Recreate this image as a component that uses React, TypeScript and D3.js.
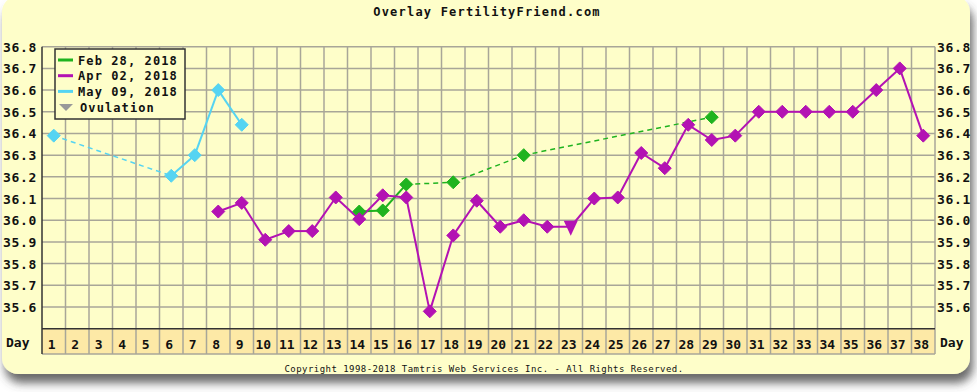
import React from "react";
import * as d3 from "d3";

const days = d3.range(1, 39);
const yTicks = [35.6, 35.7, 35.8, 35.9, 36.0, 36.1, 36.2, 36.3, 36.4, 36.5, 36.6, 36.7, 36.8];

const febDays = [14, 15, 16, 18, 21, 29];
const febTemps = [36.04, 36.045, 36.165, 36.175, 36.3, 36.475];

const aprDays = [8, 9, 10, 11, 12, 13, 14, 15, 16, 17, 18, 19, 20, 21, 22, 23, 24, 25, 26, 27, 28, 29, 30, 31, 32, 33, 34, 35, 36, 37, 38];
const aprTemps = [36.04, 36.08, 35.91, 35.95, 35.95, 36.105, 36.005, 36.115, 36.105, 35.58, 35.93, 36.09, 35.97, 36.0, 35.97, 35.97, 36.1, 36.105, 36.31, 36.24, 36.44, 36.37, 36.39, 36.5, 36.5, 36.5, 36.5, 36.5, 36.6, 36.7, 36.39];

const mayDays = [1, 6, 7, 8, 9];
const mayTemps = [36.39, 36.205, 36.3, 36.6, 36.44];

const ovulationDay = 23;

const series = [
  { name: "Feb 28, 2018", color: "#1fb31f", days: febDays, temps: febTemps },
  { name: "Apr 02, 2018", color: "#b312b3", days: aprDays, temps: aprTemps },
  { name: "May 09, 2018", color: "#55d4f2", days: mayDays, temps: mayTemps },
];

const FONT = "'DejaVu Sans Mono', 'Liberation Mono', monospace";

export default function App() {
  const W = 977, H = 392;
  const left = 42, right = 935, top = 46.7, bottom = 328.7, dayBottom = 354;
  const x = d3.scaleBand<number>().domain(days).range([left, right]);
  const y = d3.scaleLinear().domain([35.5, 36.8]).range([bottom, top]);
  const cx = (d: number) => (x(d) as number) + x.bandwidth() / 2;
  const grid = "#a8a698";
  const r = 6.5;

  return (
    <div style={{ position: "absolute", left: 0, top: 0 }}>
      <svg width={W} height={H} style={{ display: "block" }}>
        <defs>
          <filter id="sh" x="-5%" y="-5%" width="110%" height="115%">
            <feDropShadow dx="3" dy="9" stdDeviation="5" floodColor="#444" floodOpacity="0.8" />
          </filter>
        </defs>
        <rect x={0} y={0} width={W} height={H} fill="#ffffff" />
        <rect x={2} y={-4} width={968} height={378} rx={16} fill="#fefec9" filter="url(#sh)" />
        <text x={487} y={16} textAnchor="middle" fontFamily={FONT} fontWeight="bold" fontSize={12} letterSpacing={1.2} fill="#111">
          Overlay FertilityFriend.com
        </text>
        {/* day row */}
        <rect x={left} y={bottom} width={right - left} height={dayBottom - bottom} fill="#fde9a6" />
        {/* grid */}
        {days.map((d) => (
          <line key={"v" + d} x1={(x(d) as number) + x.bandwidth()} x2={(x(d) as number) + x.bandwidth()} y1={top} y2={dayBottom} stroke={grid} strokeWidth={1.5} />
        ))}
        {yTicks.map((t) => (
          <line key={"h" + t} x1={left} x2={right} y1={y(t)} y2={y(t)} stroke={grid} strokeWidth={1.5} />
        ))}
        <line x1={left} x2={right} y1={dayBottom} y2={dayBottom} stroke={grid} strokeWidth={1.5} />
        <line x1={left} x2={left} y1={top} y2={dayBottom} stroke="#333" strokeWidth={1.5} />
        <line x1={left} x2={right} y1={bottom} y2={bottom} stroke="#333" strokeWidth={1.5} />
        {/* y labels */}
        {yTicks.map((t) => (
          <g key={"l" + t}>
            <text x={3} y={y(t) + 5} fontFamily={FONT} fontWeight="bold" fontSize={13} letterSpacing={0.7} fill="#111">{t.toFixed(1)}</text>
            <text x={937} y={y(t) + 5} fontFamily={FONT} fontWeight="bold" fontSize={13} letterSpacing={0.7} fill="#111">{t.toFixed(1)}</text>
          </g>
        ))}
        {/* day labels */}
        {days.map((d) => (
          <text key={"d" + d} x={cx(d) - 2} y={349} textAnchor="middle" fontFamily={FONT} fontWeight="bold" fontSize={13} fill="#111">{d}</text>
        ))}
        <text x={6} y={347} fontFamily={FONT} fontWeight="bold" fontSize={13} fill="#111">Day</text>
        <text x={940} y={347} fontFamily={FONT} fontWeight="bold" fontSize={13} fill="#111">Day</text>
        {/* series */}
        {series.map((s) => {
          const segs = [] as JSX.Element[];
          for (let i = 1; i < s.days.length; i++) {
            const dashed = s.days[i] - s.days[i - 1] > 1;
            segs.push(
              <line key={s.name + i} x1={cx(s.days[i - 1])} y1={y(s.temps[i - 1])} x2={cx(s.days[i])} y2={y(s.temps[i])}
                stroke={s.color} strokeWidth={dashed ? 1.5 : 2} strokeDasharray={dashed ? "5,4" : undefined} />
            );
          }
          return <g key={s.name}>{segs}</g>;
        })}
        {series.map((s) => (
          <g key={s.name + "m"}>
            {s.days.map((d, i) => {
              const px = cx(d), py = y(s.temps[i]);
              if (s.name === "Apr 02, 2018" && d === ovulationDay) {
                return <path key={d} d={`M${px - 7},${py - 6}L${px + 7},${py - 6}L${px},${py + 9}Z`} fill={s.color} />;
              }
              return <path key={d} d={`M${px},${py - r}L${px + r},${py}L${px},${py + r}L${px - r},${py}Z`} fill={s.color} stroke={s.color} strokeWidth={1} strokeLinejoin="round" />;
            })}
          </g>
        ))}
        {/* legend */}
        <g>
          <rect x={55} y={49} width={130} height={70} fill="#fefec9" stroke="#333" strokeWidth={1.5} />
          {series.map((s, i) => (
            <g key={s.name + "lg"}>
              <line x1={58} x2={73} y1={60 + i * 15.7} y2={60 + i * 15.7} stroke={s.color} strokeWidth={3} />
              <text x={78} y={64.5 + i * 15.7} fontFamily={FONT} fontWeight="bold" fontSize={12} letterSpacing={1.1} fill="#111">{s.name}</text>
            </g>
          ))}
          <path d="M59,104L73,104L66,111Z" fill="#999" />
          <text x={80} y={112} fontFamily={FONT} fontWeight="bold" fontSize={12} letterSpacing={1.1} fill="#111">Ovulation</text>
        </g>
        <text x={484} y={372} textAnchor="middle" fontFamily={FONT} fontSize={9} letterSpacing={0.45} fill="#111">
          Copyright 1998-2018 Tamtris Web Services Inc. - All Rights Reserved.
        </text>
      </svg>
    </div>
  );
}
